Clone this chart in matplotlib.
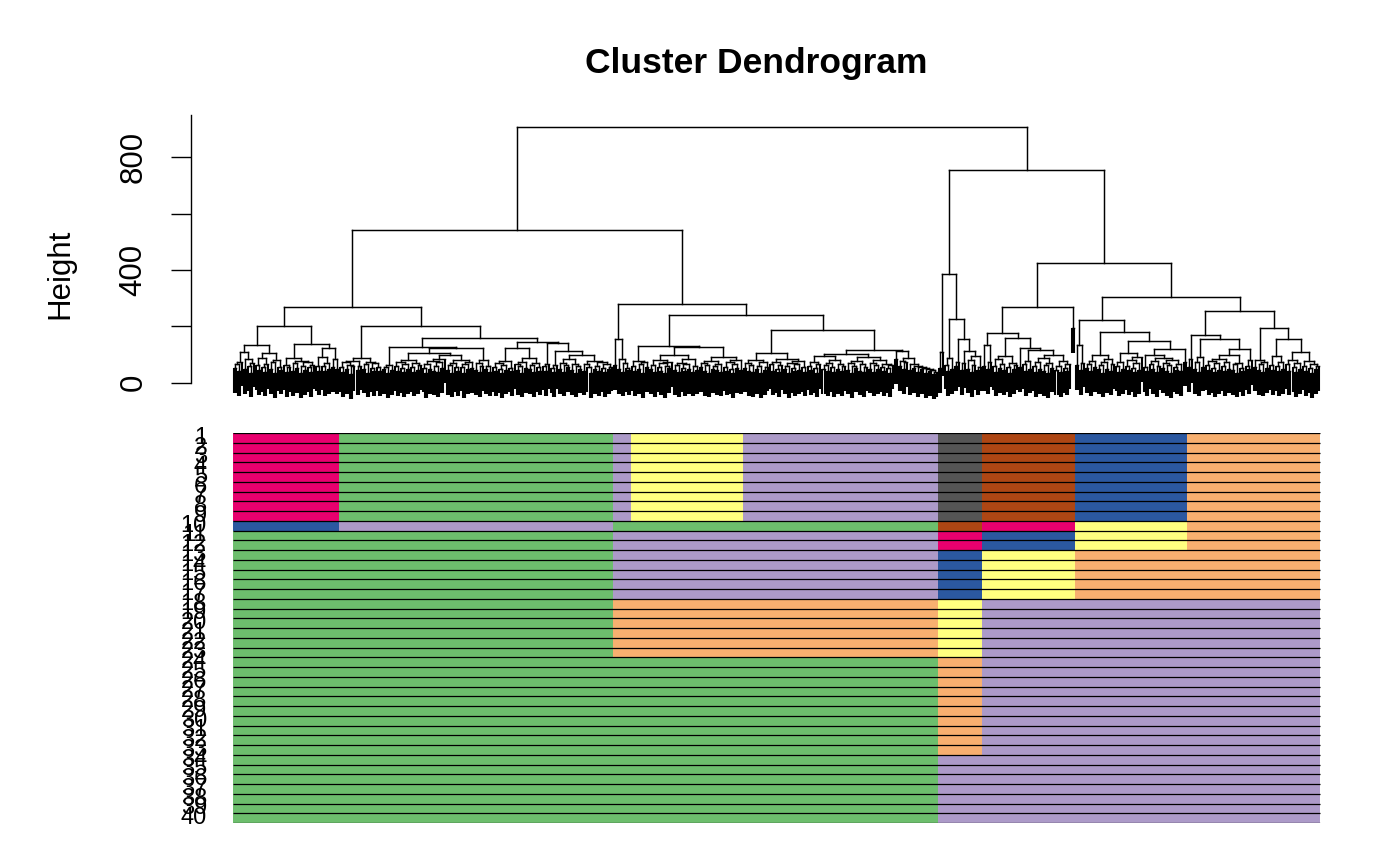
import sys
import numpy as np
import matplotlib
matplotlib.use("Agg")
import matplotlib.pyplot as plt
from matplotlib.collections import LineCollection

sys.setrecursionlimit(5000)
plt.rcParams["font.family"] = ["Liberation Sans", "DejaVu Sans"]

# ── Dendrogram data ───────────────────────────────────────────────────────────
# Merge height between each pair of neighbouring leaves (leaf order), given
# module by module; JOINS are the heights between consecutive modules.
GAPS_PINK = [52, 68, 41, 75, 110, 47, 83, 58, 36, 71, 133, 62, 44, 88, 55, 39,
             66, 107, 49, 74, 35, 81, 57, 46, 201, 63, 38, 55, 87, 42, 69, 51,
             78, 33, 60, 45, 72, 54, 37, 64, 136, 58, 43, 92, 61, 40, 70, 49,
             122, 56, 84, 47]
GAPS_GREEN = [55, 38, 72, 47, 63, 31, 58, 76, 44, 61, 89, 50, 67, 36, 74, 53,
              42, 69, 57, 40, 202, 48, 57, 35, 62, 44, 127, 59, 41, 73, 52, 37,
              66, 48, 80, 55, 39, 71, 46, 62, 104, 53, 34, 68, 49, 77, 43, 60,
              38, 72, 51, 85, 98, 45, 63, 36, 70, 54, 41, 79, 57, 33, 66, 48,
              74, 52, 122, 44, 69, 37, 58, 82, 47, 61, 39, 160, 56, 42, 71, 50,
              35, 64, 46, 78, 53, 40, 122, 67, 44, 59, 36, 73, 51, 88, 47, 62,
              38, 70, 55, 43, 144, 60, 41, 66, 140, 52, 37, 64, 113, 48, 71, 39,
              62, 54, 83, 45, 67, 36, 59, 50, 97, 43, 68, 55, 34, 76, 49, 61,
              40, 72, 53, 38, 65, 47, 57]
GAPS_PURPLE_SMALL = [62, 155, 48, 84, 39, 71, 53, 45]
GAPS_YELLOW = [58, 41, 76, 49, 66, 35, 72, 54, 131, 47, 63, 38, 81, 56, 43, 69,
               34, 60, 51, 74, 98, 45, 62, 37, 71, 53, 40, 67, 48, 84, 39, 58,
               46, 128, 55, 70, 42, 64, 36, 77, 50, 61, 44, 68, 39, 92, 57, 43,
               73, 49, 35, 65, 52, 79, 46]
GAPS_PURPLE_BIG = [53, 70, 41, 64, 37, 79, 48, 60, 35, 72, 45, 57, 104, 66, 43,
                   75, 50, 38, 62, 85, 47, 59, 33, 71, 52, 40, 68, 46, 77, 55,
                   39, 187, 61, 44, 73, 51, 36, 67, 95, 48, 63, 40, 70, 54, 37,
                   82, 49, 65, 42, 58, 101, 46, 69, 35, 60, 53, 76, 43, 66, 38,
                   57, 90, 50, 71, 39, 62, 47, 80, 55, 41, 68, 52, 36, 64, 116,
                   84, 112, 58, 77, 49, 72, 88, 44, 66, 52, 61, 38, 57, 47, 53,
                   34, 49, 40, 45, 31, 38]
GAPS_GREY = [52, 110, 385, 64, 41, 88, 47, 226, 58, 73, 155, 45, 69, 112, 50,
             81, 38, 62, 94, 44, 57]
GAPS_BROWN = [58, 134, 47, 72, 175, 61, 39, 84, 52, 67, 44, 95, 56, 36, 70, 49,
              63, 157, 54, 122, 66, 41, 78, 50, 115, 59, 37, 73, 48, 88, 42, 64,
              35, 69, 53, 99, 45, 61, 38, 76, 51, 43, 66, 270, 193]
GAPS_BLUE = [63, 134, 45, 71, 224, 52, 68, 40, 77, 55, 98, 47, 62, 36, 74, 50,
             85, 43, 66, 179, 58, 39, 72, 49, 107, 61, 44, 80, 53, 37, 69, 46,
             91, 149, 56, 41, 100, 65, 48, 76, 38, 60, 89, 51, 70, 42, 64, 35,
             79, 54, 46, 67, 40, 118, 75]
GAPS_ORANGE = [55, 85, 169, 48, 72, 39, 90, 57, 154, 63, 44, 78, 52, 37, 69, 46,
               83, 58, 41, 74, 50, 97, 45, 66, 36, 71, 53, 42, 120, 61, 47, 79,
               256, 57, 82, 44, 68, 39, 75, 51, 194, 62, 45, 93, 58, 40, 73, 49,
               156, 66, 43, 80, 55, 38, 70, 47, 108, 60, 42, 76, 52, 35, 67, 48,
               59]

SEGMENTS = [GAPS_PINK, GAPS_GREEN, GAPS_PURPLE_SMALL, GAPS_YELLOW,
            GAPS_PURPLE_BIG, GAPS_GREY, GAPS_BROWN, GAPS_BLUE, GAPS_ORANGE]
JOINS = [268, 541, 279, 239, 907, 755, 426, 305]

# ── Colour rows (module colours per row, groups of identical rows) ────────────
COLS = {"pink": "#E8006E", "green": "#6DBE6D", "purple": "#AC9AC8",
        "yellow": "#FFFF80", "grey": "#555555", "brown": "#AE4614",
        "blue": "#2B58A0", "orange": "#F8B070"}
ROW_GROUPS = [
    (9, ["pink", "green", "purple", "yellow", "purple", "grey", "brown", "blue", "orange"]),
    (1, ["blue", "purple", "green", "green", "green", "brown", "pink", "yellow", "orange"]),
    (2, ["green", "green", "purple", "purple", "purple", "pink", "blue", "yellow", "orange"]),
    (5, ["green", "green", "purple", "purple", "purple", "blue", "yellow", "orange", "orange"]),
    (6, ["green", "green", "orange", "orange", "orange", "yellow", "purple", "purple", "purple"]),
    (10, ["green", "green", "green", "green", "green", "orange", "purple", "purple", "purple"]),
    (7, ["green", "green", "green", "green", "green", "purple", "purple", "purple", "purple"]),
]
ROW_LABELS = [str(i) for i in range(1, 41)]

# ── Assemble leaf gaps ────────────────────────────────────────────────────────
gaps = []
for seg, join in zip(SEGMENTS, JOINS + [None]):
    gaps += seg
    if join is not None:
        gaps.append(join)
gaps = np.array(gaps, dtype=float)
n_leaves = len(gaps) + 1
hang = 0.1 * (gaps.max() - gaps.min())

sizes = [len(s) + 1 for s in SEGMENTS]
starts = np.concatenate([[0], np.cumsum(sizes)])

branch_segs, leaf_segs = [], []


def build(lo, hi):
    if lo == hi:
        return float(lo), None
    k = lo + int(np.argmax(gaps[lo:hi]))
    h = gaps[k]
    xl, hl = build(lo, k)
    xr, hr = build(k + 1, hi)
    for x, hc in ((xl, hl), (xr, hr)):
        if hc is None:
            leaf_segs.append([(x, h), (x, h - hang)])
        else:
            branch_segs.append([(x, h), (x, hc)])
    branch_segs.append([(xl, h), (xr, h)])
    return (xl + xr) / 2, h


build(0, n_leaves - 1)

# ── Figure ────────────────────────────────────────────────────────────────────
W, H = 1400, 866
fig = plt.figure(figsize=(W / 100, H / 100), dpi=100)
pad = 0.04 * (n_leaves - 1)
xlim = (-pad, n_leaves - 1 + pad)

ax = fig.add_axes([190.6 / W, 1 - 402 / H, 1171.4 / W, 287 / H])
ax.add_collection(LineCollection(leaf_segs, colors="black", linewidths=1.5,
                                 capstyle="butt"))
ax.add_collection(LineCollection(branch_segs, colors="black", linewidths=1.05,
                                 capstyle="projecting"))
ax.set_xlim(*xlim)
ax.set_ylim(-68.5, 950)
for s in ("top", "right", "bottom"):
    ax.spines[s].set_visible(False)
ax.spines["left"].set_bounds(0, 950)
ax.spines["left"].set_linewidth(1.0)
ax.set_xticks([])
ax.set_yticks([0, 200, 400, 600, 800])
ax.set_yticklabels(["0", "", "400", "", "800"])
ax.tick_params(axis="y", length=14.4, width=1.0, pad=16, labelsize=22.5,
               labelrotation=90)
for lab in ax.get_yticklabels():
    lab.set_verticalalignment("center")
fig.text(60 / W, 1 - 274 / H, "Height", rotation=90, fontsize=22.5,
         ha="center", va="center")
fig.text(756 / W, 1 - 72.5 / H, "Cluster Dendrogram", fontsize=25.5,
         fontweight="bold", ha="center", va="baseline")

# colour rows
ax2 = fig.add_axes([190.6 / W, 1 - 823 / H, 1171.4 / W, 390 / H])
r = 0
for count, mods in ROW_GROUPS:
    for _ in range(count):
        for m, name in enumerate(mods):
            ax2.barh(r + 0.5, sizes[m], left=starts[m] - 0.5, height=1.0,
                     color=COLS[name], linewidth=0)
        r += 1
ax2.hlines(np.arange(0, 41), -0.5, n_leaves - 0.5, colors="black",
           linewidth=0.9)
ax2.set_xlim(*xlim)
ax2.set_ylim(40, 0)
ax2.axis("off")

# row labels (overlapping, as in the original)
for i, lab in enumerate(ROW_LABELS):
    yf = 1 - (433 + 9.75 * (i + 0.5)) / H
    fig.text(207 / W, yf, lab, fontsize=17, ha="right", va="center")

fig.savefig("out.png", dpi=100)
